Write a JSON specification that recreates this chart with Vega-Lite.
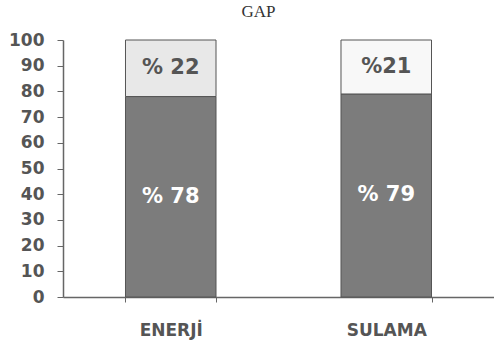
{
  "$schema": "https://vega.github.io/schema/vega-lite/v6.json",
  "autosize": "none",
  "padding": {"left": 63, "top": 40, "right": 0, "bottom": 45},
  "width": 431,
  "height": 257,
  "background": "white",
  "title": {"text": "GAP", "font": "Liberation Serif", "fontSize": 17, "fontWeight": "normal", "color": "#333", "offset": 10, "dx": -20},
  "data": {"values": [
    {"cat": "ENERJİ", "seg": "dark", "shade": "d", "value": 78, "label": "% 78", "ord": 1},
    {"cat": "ENERJİ", "seg": "light", "shade": "l1", "value": 22, "label": "% 22", "ord": 2},
    {"cat": "SULAMA", "seg": "dark", "shade": "d", "value": 79, "label": "% 79", "ord": 1},
    {"cat": "SULAMA", "seg": "light", "shade": "l2", "value": 21, "label": "%21", "ord": 2}
  ]},
  "encoding": {
    "x": {"field": "cat", "type": "nominal", "sort": null,
      "scale": {"paddingInner": 0.58, "paddingOuter": 0.29},
      "axis": {"title": null, "labelAngle": 0, "labelFont": "DejaVu Sans", "labelFontWeight": "bold", "labelFontSize": 17, "labelColor": "#555", "labelPadding": 20, "tickBand": "extent", "tickSize": 5, "tickColor": "#666", "domainColor": "#666", "domainWidth": 1.5}},
    "y": {"field": "value", "type": "quantitative", "stack": "zero",
      "scale": {"domain": [0, 100]},
      "axis": {"title": null, "values": [0,10,20,30,40,50,60,70,80,90,100], "labelFont": "DejaVu Sans", "labelFontWeight": "bold", "labelFontSize": 17, "labelColor": "#555", "labelPadding": 13, "tickSize": 6, "tickColor": "#666", "domainColor": "#666", "domainWidth": 1.5, "grid": false}},
    "order": {"field": "ord", "type": "quantitative"}
  },
  "layer": [
    {"mark": {"type": "bar", "stroke": "#555", "strokeWidth": 1},
     "encoding": {"color": {"field": "shade", "type": "nominal", "legend": null,
       "scale": {"domain": ["d", "l1", "l2"], "range": ["#7c7c7c", "#e8e8e8", "#f8f8f8"]}}}},
    {"mark": {"type": "text", "font": "DejaVu Sans", "fontWeight": "bold", "fontSize": 21, "baseline": "middle"},
     "encoding": {
       "y": {"field": "value", "type": "quantitative", "stack": "zero", "bandPosition": 0.5},
       "text": {"field": "label"},
       "color": {"condition": {"test": "datum.seg == 'dark'", "value": "white"}, "value": "#555"}}}
  ],
  "config": {"view": {"stroke": null}}
}
